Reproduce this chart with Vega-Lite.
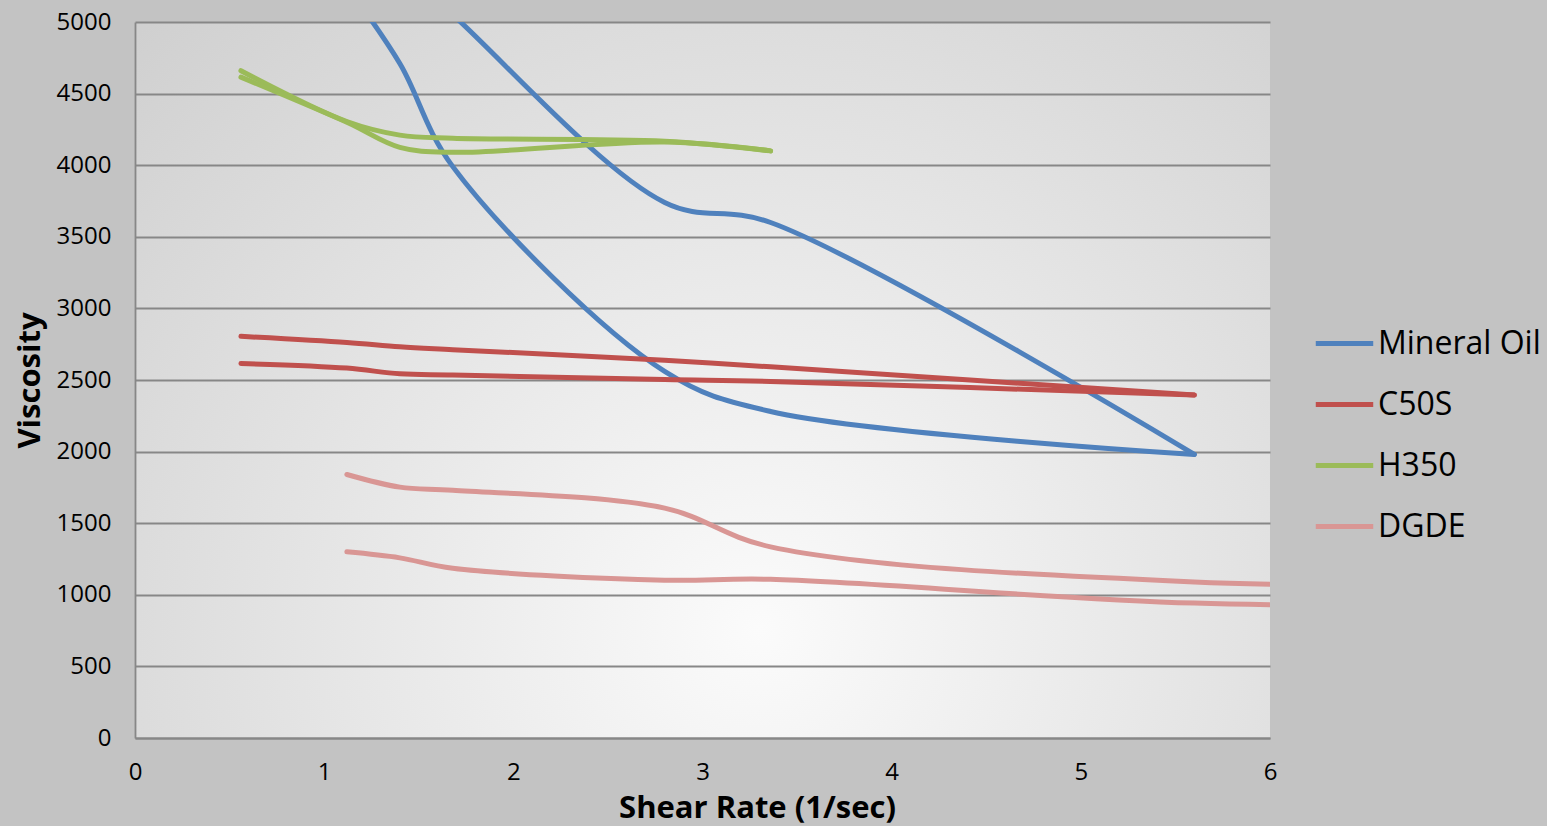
{
  "$schema": "https://vega.github.io/schema/vega-lite/v6.json",
  "width": 1135,
  "height": 716,
  "autosize": {"type": "none"},
  "padding": {"left": 135, "top": 22, "right": 277, "bottom": 88},
  "background": "#c3c3c3",
  "config": {
    "font": "Open Sans",
    "view": {
      "stroke": null,
      "fill": {
        "gradient": "radial",
        "x1": 0.55, "y1": 0.72, "r1": 0,
        "x2": 0.55, "y2": 0.72, "r2": 0.9,
        "stops": [
          {"offset": 0, "color": "#fbfbfb"},
          {"offset": 1, "color": "#c8c8c8"}
        ]
      }
    },
    "axis": {
      "labelColor": "#000000",
      "titleColor": "#000000",
      "labelFont": "Open Sans",
      "titleFont": "Open Sans",
      "labelFontSize": 24,
      "titleFontSize": 31,
      "titleFontWeight": "bold",
      "labelFlush": false,
      "ticks": false,
      "tickSize": 0,
      "domainColor": "#878787",
      "domainWidth": 1.8,
      "gridColor": "#878787",
      "gridWidth": 1.8
    },
    "legend": {
      "labelFont": "Open Sans",
      "labelColor": "#000000",
      "padding": 0
    }
  },
  "data": {
    "values": [
      {"fluid": "Mineral Oil", "sweep": "a", "rate": 1.12, "viscosity": 5250},
      {"fluid": "Mineral Oil", "sweep": "a", "rate": 1.4, "viscosity": 4710},
      {"fluid": "Mineral Oil", "sweep": "a", "rate": 1.68, "viscosity": 3990},
      {"fluid": "Mineral Oil", "sweep": "a", "rate": 2.8, "viscosity": 2560},
      {"fluid": "Mineral Oil", "sweep": "a", "rate": 3.36, "viscosity": 2280},
      {"fluid": "Mineral Oil", "sweep": "a", "rate": 5.6, "viscosity": 1980},
      {"fluid": "Mineral Oil", "sweep": "b", "rate": 1.12, "viscosity": 5710},
      {"fluid": "Mineral Oil", "sweep": "b", "rate": 1.4, "viscosity": 5380},
      {"fluid": "Mineral Oil", "sweep": "b", "rate": 1.68, "viscosity": 5050},
      {"fluid": "Mineral Oil", "sweep": "b", "rate": 2.8, "viscosity": 3740},
      {"fluid": "Mineral Oil", "sweep": "b", "rate": 3.36, "viscosity": 3600},
      {"fluid": "Mineral Oil", "sweep": "b", "rate": 5.6, "viscosity": 1980},
      {"fluid": "C50S", "sweep": "a", "rate": 0.56, "viscosity": 2805},
      {"fluid": "C50S", "sweep": "a", "rate": 1.12, "viscosity": 2762},
      {"fluid": "C50S", "sweep": "a", "rate": 1.4, "viscosity": 2732},
      {"fluid": "C50S", "sweep": "a", "rate": 1.68, "viscosity": 2712},
      {"fluid": "C50S", "sweep": "a", "rate": 2.8, "viscosity": 2638},
      {"fluid": "C50S", "sweep": "a", "rate": 3.36, "viscosity": 2592},
      {"fluid": "C50S", "sweep": "a", "rate": 5.6, "viscosity": 2395},
      {"fluid": "C50S", "sweep": "b", "rate": 0.56, "viscosity": 2615},
      {"fluid": "C50S", "sweep": "b", "rate": 1.12, "viscosity": 2583},
      {"fluid": "C50S", "sweep": "b", "rate": 1.4, "viscosity": 2543},
      {"fluid": "C50S", "sweep": "b", "rate": 1.68, "viscosity": 2535},
      {"fluid": "C50S", "sweep": "b", "rate": 2.8, "viscosity": 2503},
      {"fluid": "C50S", "sweep": "b", "rate": 3.36, "viscosity": 2490},
      {"fluid": "C50S", "sweep": "b", "rate": 5.6, "viscosity": 2395},
      {"fluid": "H350", "sweep": "a", "rate": 0.56, "viscosity": 4660},
      {"fluid": "H350", "sweep": "a", "rate": 1.12, "viscosity": 4305},
      {"fluid": "H350", "sweep": "a", "rate": 1.4, "viscosity": 4210},
      {"fluid": "H350", "sweep": "a", "rate": 1.68, "viscosity": 4188},
      {"fluid": "H350", "sweep": "a", "rate": 2.8, "viscosity": 4168},
      {"fluid": "H350", "sweep": "a", "rate": 3.36, "viscosity": 4100},
      {"fluid": "H350", "sweep": "b", "rate": 0.56, "viscosity": 4615},
      {"fluid": "H350", "sweep": "b", "rate": 1.12, "viscosity": 4300},
      {"fluid": "H350", "sweep": "b", "rate": 1.4, "viscosity": 4125},
      {"fluid": "H350", "sweep": "b", "rate": 1.68, "viscosity": 4090},
      {"fluid": "H350", "sweep": "b", "rate": 2.8, "viscosity": 4162},
      {"fluid": "H350", "sweep": "b", "rate": 3.36, "viscosity": 4100},
      {"fluid": "DGDE", "sweep": "a", "rate": 1.12, "viscosity": 1840},
      {"fluid": "DGDE", "sweep": "a", "rate": 1.4, "viscosity": 1752},
      {"fluid": "DGDE", "sweep": "a", "rate": 1.68, "viscosity": 1730},
      {"fluid": "DGDE", "sweep": "a", "rate": 2.8, "viscosity": 1605},
      {"fluid": "DGDE", "sweep": "a", "rate": 3.36, "viscosity": 1335},
      {"fluid": "DGDE", "sweep": "a", "rate": 5.6, "viscosity": 1090},
      {"fluid": "DGDE", "sweep": "a", "rate": 8.4, "viscosity": 1075},
      {"fluid": "DGDE", "sweep": "b", "rate": 1.12, "viscosity": 1300},
      {"fluid": "DGDE", "sweep": "b", "rate": 1.4, "viscosity": 1258},
      {"fluid": "DGDE", "sweep": "b", "rate": 1.68, "viscosity": 1185},
      {"fluid": "DGDE", "sweep": "b", "rate": 2.8, "viscosity": 1102},
      {"fluid": "DGDE", "sweep": "b", "rate": 3.36, "viscosity": 1108},
      {"fluid": "DGDE", "sweep": "b", "rate": 5.6, "viscosity": 942},
      {"fluid": "DGDE", "sweep": "b", "rate": 8.4, "viscosity": 925}
    ]
  },
  "mark": {
    "type": "line",
    "interpolate": "catmull-rom",
    "strokeWidth": 5,
    "strokeCap": "round",
    "strokeJoin": "round",
    "clip": true
  },
  "encoding": {
    "x": {
      "field": "rate",
      "type": "quantitative",
      "scale": {"domain": [0, 6], "nice": false},
      "axis": {
        "title": "Shear Rate (1/sec)",
        "values": [0, 1, 2, 3, 4, 5, 6],
        "format": "d",
        "grid": false,
        "labelPadding": 22,
        "titlePadding": 9,
        "titleX": 622
      }
    },
    "y": {
      "field": "viscosity",
      "type": "quantitative",
      "scale": {"domain": [0, 5000], "nice": false},
      "axis": {
        "title": "Viscosity",
        "values": [0, 500, 1000, 1500, 2000, 2500, 3000, 3500, 4000, 4500, 5000],
        "format": "d",
        "grid": true,
        "labelPadding": 24,
        "titlePadding": 10
      }
    },
    "color": {
      "field": "fluid",
      "type": "nominal",
      "scale": {
        "domain": ["Mineral Oil", "C50S", "H350", "DGDE"],
        "range": ["#4F81BD", "#C0504D", "#9BBB59", "#D99694"]
      },
      "legend": {
        "title": null,
        "orient": "none",
        "legendX": 1178,
        "legendY": 290,
        "symbolType": "stroke",
        "symbolSize": 3300,
        "symbolStrokeWidth": 5,
        "labelFontSize": 32,
        "labelLimit": 400,
        "labelOffset": 2,
        "rowPadding": 13
      }
    },
    "detail": {"field": "sweep", "type": "nominal"}
  }
}
